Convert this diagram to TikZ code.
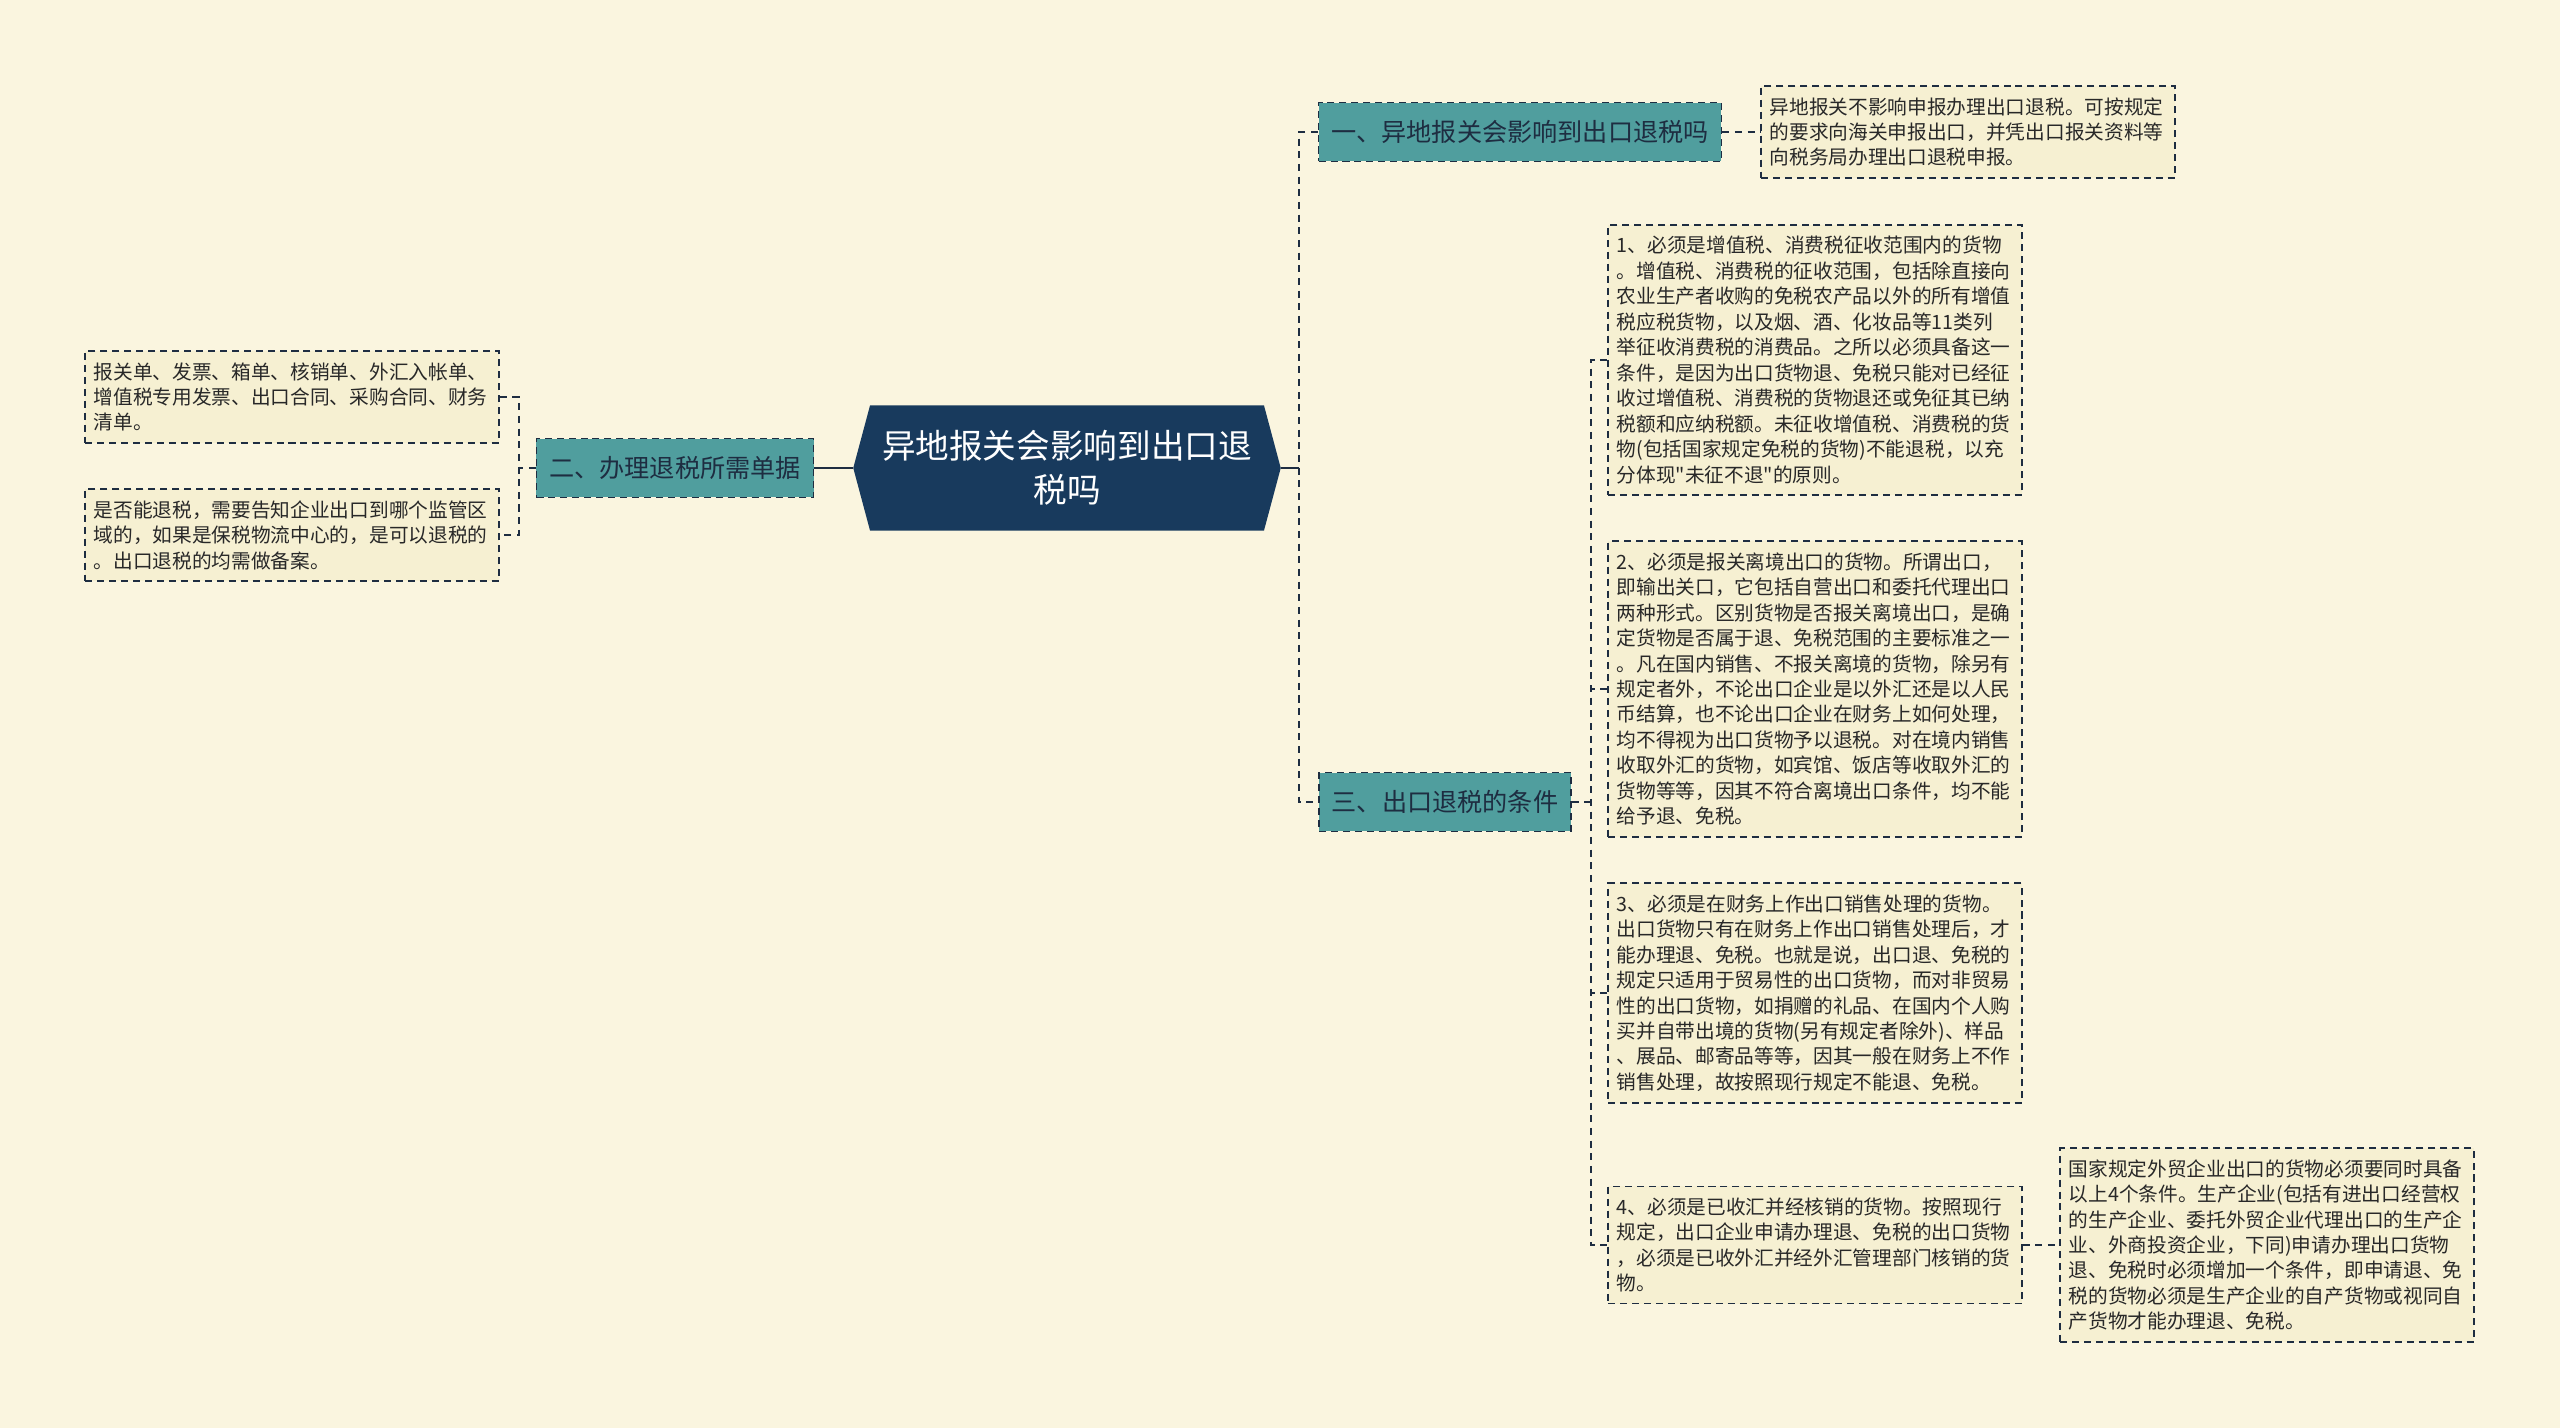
\documentclass[tikz,border=0pt]{standalone}
\usepackage{fontspec}
\setmainfont{Noto Sans CJK SC}[Ligatures=TeXOff]
\usetikzlibrary{shapes.symbols}
\definecolor{bgcream}{RGB}{250,245,223}
\definecolor{leafcream}{RGB}{246,240,210}
\definecolor{rootnavy}{RGB}{24,58,93}
\definecolor{branchteal}{RGB}{80,158,158}
\definecolor{inkdark}{RGB}{30,45,65}
\definecolor{textdark}{RGB}{40,40,40}

\tikzset{
  rootbox/.style={signal, signal to=west and east, signal pointer angle=150,
    fill=rootnavy, text=white, font=\fontsize{23.9}{31}\selectfont,
    align=center, minimum width=304pt, minimum height=89pt, inner sep=0pt},
  branchbox/.style={draw=inkdark, dash pattern=on 5pt off 3.5pt, line width=1.2pt,
    fill=branchteal, text=inkdark, font=\fontsize{17.9}{22}\selectfont,
    minimum height=41.8pt, inner xsep=9pt},
  leafbox/.style={draw=inkdark, dash pattern=on 5pt off 3.5pt, line width=1.2pt,
    fill=leafcream, text=textdark, font=\fontsize{14}{18.1}\selectfont,
    text width=282pt, align=left, inner xsep=6pt, inner ysep=8pt},
  link/.style={draw=inkdark, line width=2pt},
  dashlink/.style={draw=inkdark, line width=1.6pt, dash pattern=on 5pt off 4pt},
}

\begin{document}
\begin{tikzpicture}[x=0.025cm, y=-0.025cm]
    \fill[bgcream] (0,0) rectangle (2560,1428);

    % root
    \node[rootbox] (root) at (1067,468) {异地报关会影响到出口退\\税吗};

    % branches
    \node[branchbox] (b1) at (1520,132) {一、异地报关会影响到出口退税吗};
    \node[branchbox] (b2) at (675,468) {二、办理退税所需单据};
    \node[branchbox] (b3) at (1445,802) {三、出口退税的条件};

    % leaves of b1 and b2
    \node[leafbox] (a1) at (1968,132)
      {异地报关不影响申报办理出口退税。可按规定\\的要求向海关申报出口，并凭出口报关资料等\\向税务局办理出口退税申报。};
    \node[leafbox] (d1) at (292,397)
      {报关单、发票、箱单、核销单、外汇入帐单、\\增值税专用发票、出口合同、采购合同、财务\\清单。};
    \node[leafbox] (d2) at (292,535)
      {是否能退税，需要告知企业出口到哪个监管区\\域的，如果是保税物流中心的，是可以退税的\\。出口退税的均需做备案。};

    % leaves of b3
    \node[leafbox] (c1) at (1815,360)
      {1、必须是增值税、消费税征收范围内的货物\\。增值税、消费税的征收范围，包括除直接向\\农业生产者收购的免税农产品以外的所有增值\\税应税货物，以及烟、酒、化妆品等11类列\\举征收消费税的消费品。之所以必须具备这一\\条件，是因为出口货物退、免税只能对已经征\\收过增值税、消费税的货物退还或免征其已纳\\税额和应纳税额。未征收增值税、消费税的货\\物(包括国家规定免税的货物)不能退税，以充\\分体现"未征不退"的原则。};
    \node[leafbox] (c2) at (1815,689)
      {2、必须是报关离境出口的货物。所谓出口，\\即输出关口，它包括自营出口和委托代理出口\\两种形式。区别货物是否报关离境出口，是确\\定货物是否属于退、免税范围的主要标准之一\\。凡在国内销售、不报关离境的货物，除另有\\规定者外，不论出口企业是以外汇还是以人民\\币结算，也不论出口企业在财务上如何处理，\\均不得视为出口货物予以退税。对在境内销售\\收取外汇的货物，如宾馆、饭店等收取外汇的\\货物等等，因其不符合离境出口条件，均不能\\给予退、免税。};
    \node[leafbox] (c3) at (1815,993)
      {3、必须是在财务上作出口销售处理的货物。\\出口货物只有在财务上作出口销售处理后，才\\能办理退、免税。也就是说，出口退、免税的\\规定只适用于贸易性的出口货物，而对非贸易\\性的出口货物，如捐赠的礼品、在国内个人购\\买并自带出境的货物(另有规定者除外)、样品\\、展品、邮寄品等等，因其一般在财务上不作\\销售处理，故按照现行规定不能退、免税。};
    \node[leafbox] (c4) at (1815,1245)
      {4、必须是已收汇并经核销的货物。按照现行\\规定，出口企业申请办理退、免税的出口货物\\，必须是已收外汇并经外汇管理部门核销的货\\物。};
    \node[leafbox] (e1) at (2267,1245)
      {国家规定外贸企业出口的货物必须要同时具备\\以上4个条件。生产企业(包括有进出口经营权\\的生产企业、委托外贸企业代理出口的生产企\\业、外商投资企业，下同)申请办理出口货物\\退、免税时必须增加一个条件，即申请退、免\\税的货物必须是生产企业的自产货物或视同自\\产货物才能办理退、免税。};

    % connectors
    \draw[link] (root.east) -- ++(18,0) coordinate (rj);
    \draw[dashlink] (b1.west) -| (rj) |- (b3.west);
    \draw[link] (root.west) -- (b2.east);

    \draw[dashlink] (b2.west) -- ++(-17,0) coordinate (lj);
    \draw[dashlink] (d1.east) -| (lj) |- (d2.east);

    \draw[dashlink] (b1.east) -- (a1.west);

    \draw[dashlink] (b3.east) -- ++(19,0) coordinate (cj);
    \draw[dashlink] (c1.west) -| (cj) |- (c4.west);
    \draw[dashlink] (c2.west) -- (c2.west -| cj);
    \draw[dashlink] (c3.west) -- (c3.west -| cj);

    \draw[dashlink] (c4.east) -- (e1.west);
\end{tikzpicture}
\end{document}
